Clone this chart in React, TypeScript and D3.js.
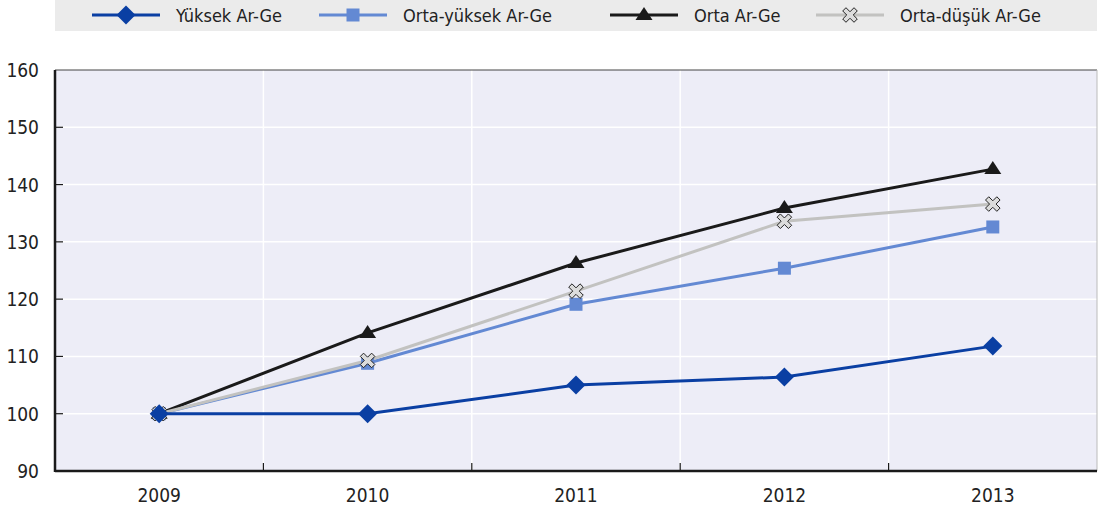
import React, { useEffect, useRef } from "react"
import * as d3 from "d3"

const years = ["2009", "2010", "2011", "2012", "2013"]
const yuksek = [100, 100, 105.0, 106.4, 111.8]
const ortaYuksek = [100, 108.8, 119.1, 125.4, 132.6]
const orta = [100, 114.1, 126.3, 135.9, 142.7]
const ortaDusuk = [100, 109.3, 121.4, 133.6, 136.6]
const yTicks = [90, 100, 110, 120, 130, 140, 150, 160]

const seriesNames = ["Yüksek Ar-Ge", "Orta-yüksek Ar-Ge", "Orta Ar-Ge", "Orta-düşük Ar-Ge"]

const FONT = "'Liberation Sans Narrow', 'DejaVu Sans Condensed', Roboto, sans-serif"

const W = 1099
const H = 512
const margin = { top: 70, right: 2, bottom: 41, left: 55 }

// cross marker polygon (plus rotated 45deg)
const crossPath = (a, L) => {
  const pts = [
    [-a, -L], [a, -L], [a, -a], [L, -a], [L, a], [a, a],
    [a, L], [-a, L], [-a, a], [-L, a], [-L, -a], [-a, -a],
  ]
  const r = Math.SQRT1_2
  return "M" + pts.map(([x, y]) => `${(x - y) * r},${(x + y) * r}`).join("L") + "Z"
}

const markers = {
  diamond: () => "M0,-9.5L9.5,0L0,9.5L-9.5,0Z",
  square: () => "M-6.5,-6.5L6.5,-6.5L6.5,6.5L-6.5,6.5Z",
  triangle: () => "M0,-8L8.5,5L-8.5,5Z",
  cross: () => crossPath(2.3, 8),
}

const App = () => {
  const ref = useRef(null)

  useEffect(() => {
    const svg = d3.select(ref.current)
    svg.selectAll("*").remove()

    const series = [
      { name: seriesNames[0], values: yuksek, color: "#0a3fa3", marker: "diamond", fill: "#0a3fa3", stroke: "none" },
      { name: seriesNames[1], values: ortaYuksek, color: "#6389d3", marker: "square", fill: "#6389d3", stroke: "none" },
      { name: seriesNames[2], values: orta, color: "#1a1a1a", marker: "triangle", fill: "#1a1a1a", stroke: "none" },
      { name: seriesNames[3], values: ortaDusuk, color: "#c2c2c0", marker: "cross", fill: "#dcdcdc", stroke: "#222" },
    ]

    const x0 = margin.left
    const x1 = W - margin.right
    const y0 = H - margin.bottom
    const y1 = margin.top

    const x = d3.scaleBand().domain(years).range([x0, x1])
    const y = d3.scaleLinear().domain([90, 160]).range([y0, y1])

    // legend
    svg.append("rect").attr("x", 55).attr("y", 0).attr("width", x1 - 55).attr("height", 31).attr("fill", "#ebebeb")
    const legendX = [92, 319, 610, 816]
    series.forEach((s, i) => {
      const g = svg.append("g").attr("transform", `translate(${legendX[i]},15)`)
      g.append("line").attr("x1", 0).attr("x2", 68).attr("stroke", s.color).attr("stroke-width", 3)
      g.append("path").attr("d", markers[s.marker]()).attr("transform", "translate(34,0)")
        .attr("fill", s.fill).attr("stroke", s.stroke).attr("stroke-width", 1)
      g.append("text").attr("x", 84).attr("y", 7).text(s.name)
        .style("font-family", FONT).style("font-size", "18px").attr("fill", "#222")
    })

    // plot background
    svg.append("rect").attr("x", x0).attr("y", y1).attr("width", x1 - x0).attr("height", y0 - y1).attr("fill", "#ededf7")

    // gridlines
    svg.append("g").selectAll("line").data(yTicks.slice(1, -1)).join("line")
      .attr("x1", x0).attr("x2", x1).attr("y1", (d) => y(d)).attr("y2", (d) => y(d))
      .attr("stroke", "#fff").attr("stroke-width", 1.5)
    const bounds = years.slice(1).map((d) => x(d))
    svg.append("g").selectAll("line").data(bounds).join("line")
      .attr("x1", (d) => d).attr("x2", (d) => d).attr("y1", y1).attr("y2", y0)
      .attr("stroke", "#fff").attr("stroke-width", 1.5)

    // frame
    svg.append("line").attr("x1", x0).attr("x2", x1).attr("y1", y1).attr("y2", y1).attr("stroke", "#444").attr("stroke-width", 1)
    svg.append("line").attr("x1", x1).attr("x2", x1).attr("y1", y1).attr("y2", y0).attr("stroke", "#bbb").attr("stroke-width", 1)

    // axis ticks
    svg.append("g").selectAll("line").data(yTicks.slice(1, -1)).join("line")
      .attr("x1", x0).attr("x2", x0 + 8).attr("y1", (d) => y(d)).attr("y2", (d) => y(d))
      .attr("stroke", "#1a1a1a").attr("stroke-width", 1.2)
    svg.append("g").selectAll("line").data(bounds).join("line")
      .attr("x1", (d) => d).attr("x2", (d) => d).attr("y1", y0).attr("y2", y0 - 8)
      .attr("stroke", "#1a1a1a").attr("stroke-width", 1.2)
    svg.append("line").attr("x1", x0).attr("x2", x0).attr("y1", y1).attr("y2", y0 + 1).attr("stroke", "#1a1a1a").attr("stroke-width", 2.5)
    svg.append("line").attr("x1", x0).attr("x2", x1).attr("y1", y0).attr("y2", y0).attr("stroke", "#1a1a1a").attr("stroke-width", 2.5)

    // tick labels
    svg.append("g").selectAll("text").data(yTicks).join("text")
      .attr("x", 39).attr("y", (d) => y(d) + 7).attr("text-anchor", "end").text((d) => d)
      .style("font-family", FONT).style("font-size", "19px").attr("fill", "#222")
    svg.append("g").selectAll("text").data(years).join("text")
      .attr("x", (d) => x(d) + x.bandwidth() / 2).attr("y", 502).attr("text-anchor", "middle").text((d) => d)
      .style("font-family", FONT).style("font-size", "19px").attr("fill", "#222")

    const cx = (i) => x(years[i]) + x.bandwidth() / 2
    const line = d3.line().x((d, i) => cx(i)).y((d) => y(d))

    const order = [1, 2, 3, 0]
    order.forEach((k) => {
      const s = series[k]
      svg.append("path").datum(s.values).attr("d", line).attr("fill", "none")
        .attr("stroke", s.color).attr("stroke-width", 3)
    })
    order.forEach((k) => {
      const s = series[k]
      svg.append("g").selectAll("path").data(s.values).join("path")
        .attr("d", markers[s.marker]())
        .attr("transform", (d, i) => `translate(${cx(i)},${y(d)})`)
        .attr("fill", s.fill).attr("stroke", s.stroke).attr("stroke-width", 1)
    })
  }, [])

  return (
    <svg ref={ref} width={W} height={H} style={{ position: "absolute", left: 0, top: 0 }}></svg>
  )
}

export default App
